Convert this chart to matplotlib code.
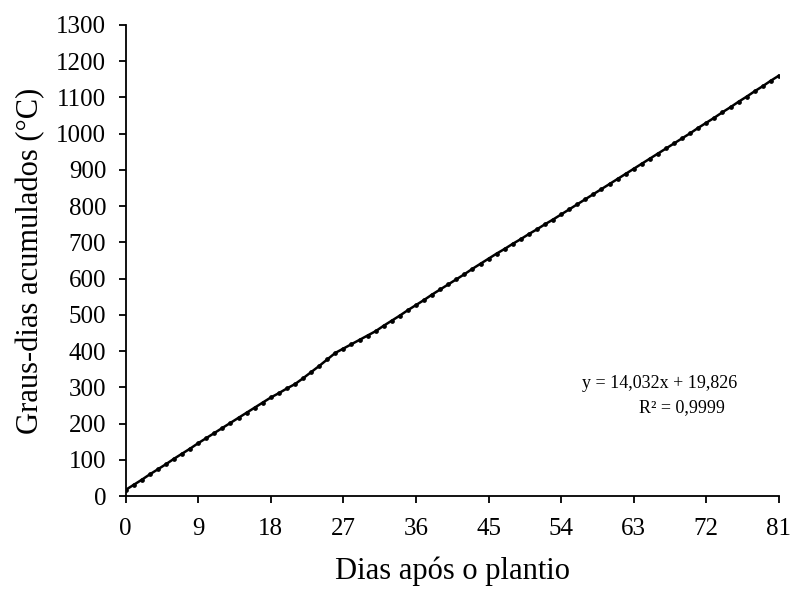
import matplotlib
matplotlib.use('Agg')
import matplotlib.pyplot as plt

plt.rcParams['font.family'] = ['Liberation Serif', 'DejaVu Serif']

# accumulated degree-days, one reading per day (0..81)
dias = list(range(0, 82))
graus_dias = [17, 31, 45, 60, 74, 88, 103, 117, 131, 146,
              160, 174, 188, 202, 216, 230, 244, 258, 272, 284,
              297, 309, 325, 342, 359, 377, 395, 407, 419, 431,
              443, 455, 470, 484, 498, 513, 527, 541, 556, 570,
              584, 598, 612, 627, 641, 655, 669, 682, 696, 709,
              723, 736, 750, 763, 777, 791, 805, 819, 833, 847,
              861, 875, 889, 903, 917, 931, 945, 959, 973, 987,
              1001, 1016, 1030, 1044, 1059, 1073, 1088, 1102, 1117, 1131,
              1146, 1160]
x_ticks = list(range(0, 82, 9))
y_ticks = list(range(0, 1301, 100))

fig = plt.figure(figsize=(7.9, 5.92), dpi=100)
ax = fig.add_axes([0.159, 0.162, 0.827, 0.796])

ax.plot(dias, graus_dias, color='black', lw=1.8, marker='o', ms=2.4)

ax.set_xlim(0, 81)
ax.set_ylim(0, 1300)
ax.set_xticks(x_ticks)
ax.set_yticks(y_ticks)
ax.tick_params(direction='out', length=5, width=1.3, labelsize=18)
ax.tick_params(axis='x', pad=11)
ax.tick_params(axis='y', pad=9)
for s in ['top', 'right']:
    ax.spines[s].set_visible(False)
for s in ['left', 'bottom']:
    ax.spines[s].set_linewidth(1.3)

ax.set_xlabel('Dias após o plantio', fontsize=22, labelpad=12)
ax.set_ylabel('Graus-dias acumulados (°C)', fontsize=22, labelpad=8)

ax.text(75.8, 312, 'y = 14,032x + 19,826', fontsize=13, ha='right', va='center')
ax.text(74.3, 243, 'R² = 0,9999', fontsize=13, ha='right', va='center')

fig.savefig('out.png', dpi=100)
